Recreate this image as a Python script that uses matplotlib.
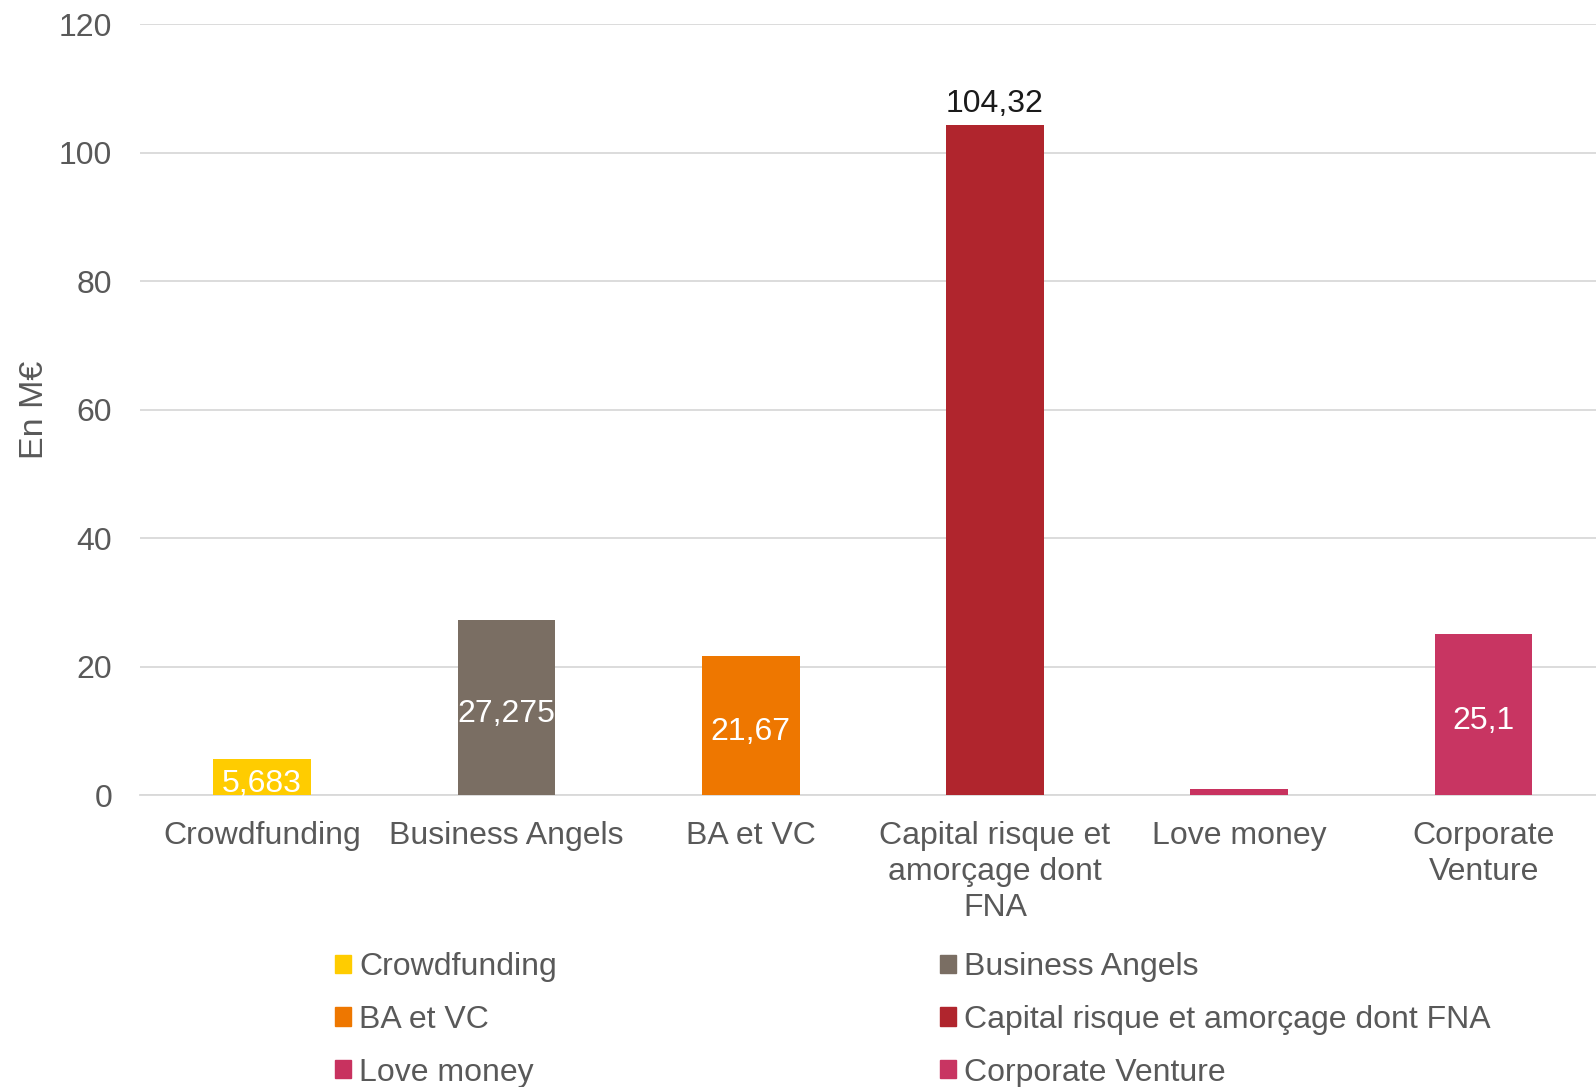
import matplotlib.pyplot as plt
from matplotlib.patches import Patch

plt.rcParams['font.family'] = ['Liberation Sans', 'DejaVu Sans']

categories = ['Crowdfunding', 'Business Angels', 'BA et VC',
              'Capital risque et amorçage dont FNA', 'Love money', 'Corporate Venture']
tick_labels = ['Crowdfunding', 'Business Angels', 'BA et VC',
               'Capital risque et\namorçage dont\nFNA', 'Love money', 'Corporate\nVenture']
values = [5.683, 27.275, 21.67, 104.32, 1.0, 25.1]
value_labels = ['5,683', '27,275', '21,67', '104,32', '', '25,1']
colors = ['#FFCC00', '#7A6E63', '#EE7700', '#B0252D', '#C8325F', '#C83562']

GRAY = '#595959'
FS = 23

fig = plt.figure(figsize=(15.96, 10.87), dpi=100)
ax = fig.add_axes([0.0877, 0.2686, 0.9123, 0.709])

x = range(len(categories))
bars = ax.bar(x, values, width=0.4, color=colors, zorder=3)

for i, (b, lab) in enumerate(zip(bars, value_labels)):
    if not lab:
        continue
    cx = b.get_x() + b.get_width() / 2
    if values[i] > 100:
        ax.annotate(lab, (cx, b.get_height()),
                    xytext=(0, 4), textcoords='offset points',
                    ha='center', va='bottom', fontsize=FS, color='#1a1a1a')
    else:
        ax.annotate(lab, (cx, b.get_height() / 2),
                    xytext=(0, -5), textcoords='offset points',
                    ha='center', va='center', fontsize=FS, color='white', zorder=4)

ax.set_xlim(-0.5, 5.46)
ax.set_ylim(0, 120)
ax.set_yticks(range(0, 121, 20))
ax.set_xticks(list(x))
ax.set_xticklabels(tick_labels, linespacing=1.25)
ax.tick_params(axis='both', length=0, labelsize=FS, labelcolor=GRAY)
ax.tick_params(axis='x', pad=19)
ax.tick_params(axis='y', pad=20)
ax.grid(axis='y', color='#D9D9D9', linewidth=1.3, zorder=0)
for s in ['top', 'right', 'left']:
    ax.spines[s].set_visible(False)
ax.spines['bottom'].set_color('#D9D9D9')
ax.spines['bottom'].set_linewidth(1.3)
ax.set_ylabel('En M€', fontsize=24.5, color=GRAY)
ax.yaxis.set_label_coords(-0.062, 0.5)

handles = [Patch(color=c, label=n) for c, n in zip(colors, categories)]
order = [0, 2, 4, 1, 3, 5]
leg = fig.legend([handles[i] for i in order], [categories[i] for i in order],
                 loc='upper left', bbox_to_anchor=(0.21, 0.124), ncol=2,
                 frameon=False, fontsize=FS, handlelength=0.5, handleheight=0.5,
                 handletextpad=0.25, labelspacing=0.71, columnspacing=12.0,
                 borderpad=0, borderaxespad=0)
for t in leg.get_texts():
    t.set_color(GRAY)

fig.savefig('out.png', dpi=100)
